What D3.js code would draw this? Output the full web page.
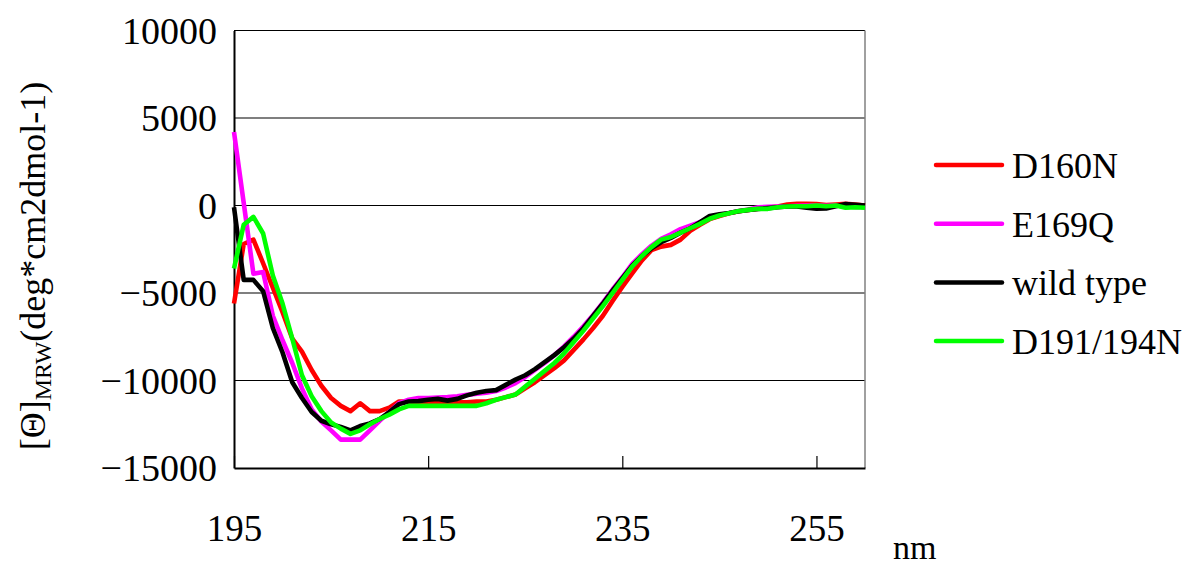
<!DOCTYPE html>
<html>
<head>
<meta charset="utf-8">
<script src="https://cdn.jsdelivr.net/npm/d3@7"></script>
<style>
  body { margin: 0; background: #fff; }
</style>
</head>
<body>
<script>
// wavelength, nm
var wavelengths = [195, 196, 197, 198, 199, 200, 201, 202, 203, 204, 205, 206, 207, 208, 209, 210,
    211, 212, 213, 214, 215, 216, 217, 218, 219, 220, 221, 222, 223, 224, 225, 226, 227, 228, 229, 230,
    231, 232, 233, 234, 235, 236, 237, 238, 239, 240, 241, 242, 243, 244, 245, 246, 247, 248, 249, 250,
    251, 252, 253, 254, 255, 256, 257, 258, 259, 260];

var d160n = [-5600, -2200, -1950, -3300, -4700, -6100, -7600, -8350, -9400, -10300, -11000, -11450, -11750, -11300, -11750, -11750,
    -11550, -11200, -11200, -11250, -11250, -11250, -11250, -11250, -11250, -11200, -11200, -11100, -10950, -10800, -10450, -10100, -9700, -9300, -8850, -8250,
    -7650, -7000, -6300, -5450, -4650, -3900, -3150, -2550, -2350, -2250, -1950, -1450, -1100, -780, -600, -450, -330, -260, -190, -130,
    -60, 50, 100, 100, 80, 30, 60, 100, 60, 0];

var e169q = [4200, 150, -3900, -3800, -6300, -7700, -9000, -10450, -11650, -12350, -12850, -13380, -13380, -13380, -12850, -12300,
    -11800, -11300, -11100, -11000, -11000, -10980, -10950, -10900, -10820, -10750, -10700, -10600, -10400, -10150, -9800, -9400, -9000, -8550, -8050, -7500,
    -6900, -6250, -5550, -4800, -4100, -3350, -2800, -2300, -1900, -1650, -1350, -1150, -950, -700, -550, -430, -320, -230, -100, -80,
    -60, -40, -20, 0, 0, -20, 0, -40, -80, -100];

var wildType = [-100, -4250, -4250, -4900, -7000, -8400, -10100, -11000, -11800, -12300, -12500, -12650, -12850, -12600, -12450, -12200,
    -11800, -11350, -11200, -11180, -11100, -11050, -11150, -11050, -10850, -10700, -10600, -10550, -10250, -9950, -9700, -9350, -8950, -8550, -8100, -7600,
    -7000, -6300, -5600, -4850, -4150, -3450, -2900, -2450, -2100, -1850, -1550, -1300, -950, -600, -500, -430, -330, -260, -200, -150,
    -100, -60, -50, -120, -180, -170, -40, 80, 40, 0];

var d191n = [-3600, -1100, -650, -1600, -4000, -5600, -7600, -9700, -10900, -11750, -12400, -12750, -13050, -12850, -12500, -12200,
    -11950, -11650, -11450, -11450, -11450, -11450, -11450, -11450, -11450, -11450, -11300, -11100, -10950, -10800, -10350, -9900, -9450, -9000, -8450, -7800,
    -7150, -6450, -5750, -5000, -4250, -3500, -2900, -2380, -1950, -1800, -1550, -1300, -1050, -760, -570, -440, -320, -250, -190, -190,
    -100, -60, -40, -40, 0, -40, 0, -130, -100, -130];

var seriesNames = ["D160N", "E169Q", "wild type", "D191/194N"];
var seriesColors = ["#ff0000", "#ff00ff", "#000000", "#00ff00"];
var seriesValues = [d160n, e169q, wildType, d191n];

var xTicks = [195, 215, 235, 255];
var yTicks = [10000, 5000, 0, -5000, -10000, -15000];

var FONT = "'Liberation Serif', 'DejaVu Serif', serif";
var W = 1188, H = 570;
var plot = {left: 234, right: 865, top: 30.5, bottom: 468};

var svg = d3.select("body").append("svg")
        .attr("width", W)
        .attr("height", H);

var x = d3.scaleLinear().domain([195, 260]).range([plot.left, plot.right]);
var y = d3.scaleLinear().domain([-15000, 10000]).range([plot.bottom, plot.top]);

// grid lines
svg.append("g").selectAll("line")
        .data(yTicks.filter(function (t) { return t > -15000; }))
        .enter().append("line")
        .attr("x1", plot.left).attr("x2", plot.right)
        .attr("y1", function (d) { return y(d); })
        .attr("y2", function (d) { return y(d); })
        .attr("stroke", "#000")
        .attr("stroke-width", 1.2);

// right border
svg.append("line")
        .attr("x1", plot.right).attr("x2", plot.right)
        .attr("y1", plot.top).attr("y2", plot.bottom)
        .attr("stroke", "#808080")
        .attr("stroke-width", 1.5);

// y axis, labels only (ticks hidden by grid)
var yAxis = svg.append("g")
        .attr("transform", "translate(" + plot.left + ",0)")
        .call(d3.axisLeft(y).tickValues(yTicks).tickSize(0).tickPadding(17).tickFormat(d3.format("d")));
yAxis.attr("font-family", null);
yAxis.select(".domain").attr("stroke", "#000").attr("stroke-width", 2);
yAxis.selectAll("text")
        .style("font-family", FONT)
        .style("font-size", "38px")
        .attr("fill", "#000")
        .attr("dy", "0.34em");

// x axis, inward ticks
var xAxis = svg.append("g")
        .attr("transform", "translate(0," + plot.bottom + ")")
        .call(d3.axisBottom(x).tickValues(xTicks).tickSizeInner(-12).tickSizeOuter(0).tickPadding(0).tickFormat(d3.format("d")));
xAxis.attr("font-family", null);
xAxis.select(".domain").attr("stroke", "#000").attr("stroke-width", 2);
xAxis.selectAll(".tick line").attr("stroke", "#000").attr("stroke-width", 1.2);
xAxis.selectAll("text")
        .style("font-family", FONT)
        .style("font-size", "37px")
        .attr("fill", "#000")
        .attr("y", 73).attr("dy", 0);

// curves
var line = d3.line()
        .x(function (d) { return x(d[0]); })
        .y(function (d) { return y(d[1]); });

seriesValues.forEach(function (vals, i) {
    svg.append("path")
            .datum(wavelengths.map(function (w, j) { return [w, vals[j]]; }))
            .attr("d", line)
            .attr("fill", "none")
            .attr("stroke", seriesColors[i])
            .attr("stroke-width", 4.6)
            .attr("stroke-linejoin", "round");
});

// legend
var legend = svg.append("g").attr("transform", "translate(936,165)");
seriesNames.forEach(function (name, i) {
    var g = legend.append("g").attr("transform", "translate(0," + (i * 58.7) + ")");
    g.append("line")
            .attr("x1", 0).attr("x2", 66)
            .attr("stroke", seriesColors[i])
            .attr("stroke-width", 4.5)
            .attr("stroke-linecap", "round");
    g.append("text")
            .attr("x", 76).attr("y", 13)
            .style("font-family", FONT)
            .style("font-size", "36px")
            .text(name);
});

// axis titles
svg.append("text")
        .attr("x", 893).attr("y", 559)
        .style("font-family", FONT)
        .style("font-size", "34px")
        .text("nm");

var yTitle = svg.append("text")
        .attr("transform", "translate(45,266) rotate(-90)")
        .attr("text-anchor", "middle")
        .style("font-family", FONT)
        .style("font-size", "36px");
yTitle.append("tspan").text("[\u0398]");
yTitle.append("tspan").attr("dy", 6).style("font-size", "24px").text("MRW");
yTitle.append("tspan").attr("dy", -6).text("(deg*cm2dmol-1)");
</script>
</body>
</html>
